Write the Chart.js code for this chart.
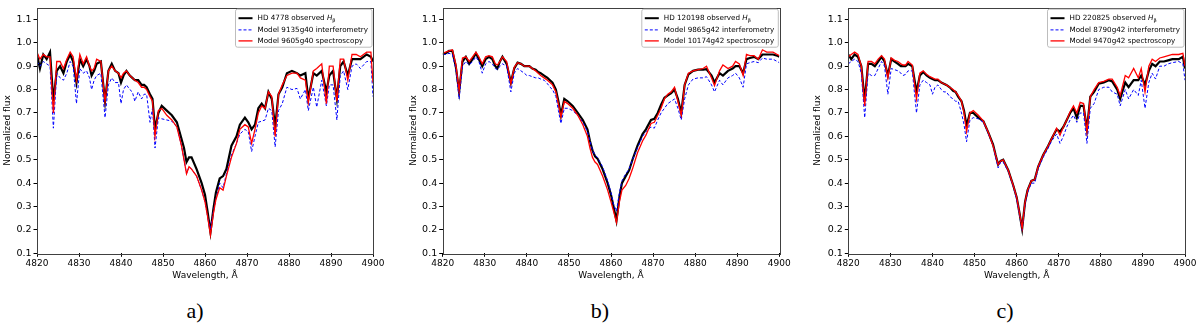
<!DOCTYPE html>
<html><head><meta charset="utf-8">
<script src="https://cdn.jsdelivr.net/npm/chart.js@4.4.0/dist/chart.umd.min.js"></script>
<style>
html,body{margin:0;padding:0;background:#fff;width:1200px;height:325px;overflow:hidden}
.panel{position:absolute;top:0;width:400px;height:325px}
.panel canvas{position:absolute;left:0;top:0}
.lab{position:absolute;top:298px;font-family:"Liberation Serif","DejaVu Serif",serif;font-size:22px;color:#000;transform:translateX(-50%);white-space:nowrap}
</style></head><body>
<div class="panel" style="left:0"><canvas id="ca" width="400" height="290"></canvas><div class="lab" style="left:195px">a)</div></div>
<div class="panel" style="left:400px"><canvas id="cb" width="400" height="290"></canvas><div class="lab" style="left:200px">b)</div></div>
<div class="panel" style="left:800px"><canvas id="cc" width="400" height="290"></canvas><div class="lab" style="left:205px">c)</div></div>
<script>
const wavelengths = [4820,4820.7,4821.5,4822.3,4823.1,4823.9,4824.7,4825.5,4826.3,4827.1,4827.9,4828.6,4829.4,4830.2,4831.0,4831.8,4832.5,4833.0,4833.6,4834.2,4835.2,4836.2,4837.0,4837.8,4838.6,4839.4,4840.0,4840.6,4841.3,4842.1,4842.7,4843.3,4844.1,4844.9,4845.5,4846.1,4846.9,4847.5,4848.1,4848.9,4849.7,4850.9,4852.1,4853.3,4854.4,4855.0,4855.6,4856.2,4856.8,4858.0,4859.2,4860.0,4860.6,4861.3,4862.0,4862.6,4863.5,4864.3,4865.1,4866.3,4867.5,4868.3,4869.5,4870.3,4871.1,4871.9,4872.7,4873.5,4874.3,4875.1,4875.9,4876.7,4877.5,4878.4,4879.5,4880.7,4881.9,4882.7,4883.9,4884.6,4885.8,4886.6,4887.8,4888.9,4889.6,4890.5,4891.4,4892.2,4893.0,4894.0,4895.0,4896.0,4897.0,4898.5,4899.5,4900];

// Panel a) HD 4778
const obsA  = [0.95,0.89,0.95,0.93,0.96,0.75,0.88,0.90,0.87,0.92,0.95,0.92,0.83,0.93,0.90,0.93,0.90,0.86,0.88,0.91,0.92,0.75,0.88,0.91,0.88,0.87,0.83,0.86,0.88,0.86,0.85,0.84,0.84,0.82,0.82,0.81,0.78,0.76,0.63,0.70,0.73,0.71,0.69,0.66,0.59,0.55,0.49,0.51,0.51,0.46,0.40,0.35,0.28,0.19,0.29,0.36,0.42,0.43,0.46,0.56,0.60,0.65,0.68,0.66,0.63,0.65,0.72,0.74,0.72,0.79,0.76,0.64,0.78,0.81,0.87,0.88,0.87,0.86,0.87,0.76,0.87,0.86,0.88,0.79,0.86,0.88,0.76,0.90,0.92,0.86,0.93,0.93,0.93,0.95,0.94,0.92];
const intA  = [0.92,0.90,0.92,0.91,0.90,0.635,0.87,0.85,0.84,0.87,0.92,0.90,0.74,0.89,0.87,0.88,0.85,0.80,0.84,0.86,0.87,0.68,0.82,0.85,0.83,0.83,0.74,0.80,0.82,0.80,0.79,0.75,0.79,0.76,0.78,0.78,0.66,0.72,0.55,0.68,0.675,0.67,0.665,0.64,0.56,0.50,0.44,0.47,0.46,0.43,0.37,0.32,0.26,0.205,0.28,0.33,0.40,0.38,0.44,0.52,0.57,0.61,0.63,0.62,0.535,0.60,0.66,0.665,0.67,0.72,0.71,0.555,0.71,0.74,0.81,0.80,0.805,0.76,0.80,0.71,0.81,0.725,0.84,0.73,0.82,0.82,0.67,0.86,0.88,0.80,0.90,0.91,0.89,0.92,0.92,0.77];
const specA = [0.96,0.93,0.95,0.94,0.94,0.70,0.92,0.92,0.89,0.93,0.96,0.94,0.84,0.95,0.91,0.94,0.90,0.88,0.89,0.93,0.92,0.75,0.88,0.90,0.88,0.87,0.85,0.87,0.88,0.86,0.85,0.84,0.83,0.81,0.81,0.80,0.77,0.75,0.60,0.71,0.72,0.69,0.67,0.64,0.56,0.50,0.44,0.47,0.46,0.43,0.37,0.32,0.26,0.178,0.27,0.33,0.38,0.37,0.43,0.51,0.57,0.63,0.65,0.64,0.57,0.63,0.70,0.73,0.72,0.79,0.77,0.60,0.78,0.82,0.86,0.87,0.87,0.85,0.84,0.745,0.88,0.89,0.91,0.74,0.90,0.90,0.75,0.93,0.93,0.84,0.95,0.95,0.94,0.96,0.96,0.83];

// Panel b) HD 120198
const obsB  = [0.95,0.955,0.965,0.965,0.90,0.79,0.92,0.94,0.91,0.93,0.955,0.93,0.90,0.93,0.94,0.93,0.90,0.89,0.92,0.94,0.91,0.83,0.89,0.915,0.91,0.90,0.90,0.90,0.89,0.885,0.875,0.87,0.86,0.85,0.84,0.83,0.80,0.75,0.69,0.76,0.75,0.73,0.70,0.67,0.63,0.58,0.54,0.515,0.505,0.46,0.40,0.35,0.30,0.24,0.34,0.40,0.43,0.455,0.50,0.56,0.61,0.63,0.67,0.675,0.70,0.735,0.765,0.775,0.785,0.80,0.76,0.70,0.82,0.865,0.88,0.885,0.885,0.887,0.86,0.83,0.87,0.86,0.88,0.89,0.90,0.90,0.87,0.93,0.935,0.94,0.93,0.95,0.95,0.95,0.945,0.94];
const intB  = [0.95,0.95,0.955,0.95,0.89,0.76,0.90,0.92,0.905,0.92,0.94,0.92,0.87,0.91,0.92,0.91,0.89,0.885,0.90,0.91,0.90,0.79,0.87,0.89,0.88,0.87,0.86,0.86,0.855,0.85,0.85,0.845,0.84,0.825,0.81,0.80,0.77,0.71,0.655,0.72,0.72,0.71,0.69,0.66,0.62,0.58,0.54,0.52,0.51,0.47,0.41,0.36,0.31,0.28,0.36,0.41,0.44,0.46,0.50,0.55,0.60,0.62,0.64,0.635,0.67,0.70,0.72,0.74,0.75,0.76,0.72,0.67,0.76,0.82,0.845,0.85,0.85,0.855,0.82,0.79,0.84,0.82,0.85,0.86,0.87,0.85,0.81,0.91,0.915,0.92,0.915,0.935,0.93,0.93,0.92,0.915];
const specB = [0.955,0.96,0.965,0.97,0.91,0.795,0.935,0.94,0.92,0.94,0.96,0.94,0.91,0.94,0.945,0.94,0.91,0.905,0.92,0.94,0.92,0.825,0.895,0.915,0.91,0.90,0.90,0.90,0.89,0.88,0.87,0.86,0.85,0.84,0.83,0.82,0.79,0.74,0.683,0.75,0.74,0.72,0.69,0.65,0.60,0.55,0.51,0.49,0.48,0.43,0.37,0.32,0.28,0.232,0.32,0.37,0.39,0.42,0.46,0.53,0.58,0.605,0.655,0.66,0.69,0.72,0.76,0.78,0.79,0.81,0.75,0.69,0.82,0.87,0.88,0.885,0.89,0.90,0.85,0.817,0.88,0.905,0.89,0.90,0.92,0.91,0.86,0.95,0.945,0.945,0.93,0.97,0.96,0.96,0.95,0.945];

// Panel c) HD 220825
const obsC  = [0.95,0.93,0.95,0.94,0.90,0.75,0.91,0.91,0.90,0.92,0.94,0.92,0.86,0.93,0.92,0.91,0.90,0.90,0.90,0.91,0.90,0.79,0.86,0.875,0.86,0.85,0.845,0.84,0.84,0.83,0.825,0.82,0.81,0.795,0.79,0.77,0.75,0.71,0.645,0.70,0.70,0.68,0.665,0.615,0.565,0.52,0.48,0.495,0.50,0.455,0.39,0.34,0.28,0.205,0.32,0.37,0.41,0.415,0.47,0.52,0.56,0.59,0.63,0.62,0.64,0.67,0.70,0.72,0.68,0.73,0.73,0.63,0.77,0.79,0.825,0.83,0.84,0.835,0.80,0.76,0.83,0.81,0.84,0.84,0.86,0.82,0.88,0.91,0.90,0.92,0.92,0.925,0.93,0.93,0.94,0.89];
const intC  = [0.91,0.92,0.93,0.92,0.87,0.68,0.87,0.86,0.86,0.89,0.92,0.90,0.78,0.89,0.885,0.88,0.87,0.86,0.865,0.88,0.88,0.70,0.82,0.84,0.83,0.82,0.78,0.81,0.82,0.80,0.79,0.79,0.77,0.76,0.75,0.75,0.70,0.65,0.577,0.67,0.68,0.675,0.66,0.61,0.56,0.51,0.465,0.49,0.49,0.45,0.385,0.33,0.27,0.198,0.31,0.36,0.40,0.40,0.46,0.51,0.55,0.58,0.61,0.57,0.60,0.64,0.67,0.69,0.66,0.70,0.70,0.57,0.72,0.74,0.80,0.81,0.81,0.79,0.78,0.73,0.80,0.76,0.80,0.775,0.84,0.72,0.83,0.87,0.845,0.90,0.90,0.91,0.915,0.92,0.91,0.84];
const specC = [0.94,0.95,0.96,0.95,0.90,0.73,0.92,0.92,0.91,0.93,0.945,0.93,0.85,0.935,0.925,0.92,0.91,0.905,0.905,0.92,0.905,0.76,0.87,0.88,0.865,0.855,0.85,0.845,0.845,0.83,0.825,0.82,0.81,0.80,0.79,0.775,0.75,0.70,0.62,0.70,0.71,0.69,0.665,0.615,0.56,0.52,0.48,0.495,0.50,0.455,0.39,0.34,0.28,0.207,0.32,0.37,0.41,0.415,0.47,0.52,0.56,0.59,0.635,0.605,0.64,0.67,0.705,0.73,0.70,0.745,0.74,0.62,0.77,0.80,0.83,0.835,0.845,0.845,0.81,0.775,0.86,0.85,0.89,0.85,0.89,0.79,0.90,0.93,0.92,0.935,0.94,0.945,0.95,0.95,0.955,0.90];

const xTicks = [4820,4830,4840,4850,4860,4870,4880,4890,4900];
const yTicks = [0.1,0.2,0.3,0.4,0.5,0.6,0.7,0.8,0.9,1.0,1.1];
const starNames = ["HD 4778","HD 120198","HD 220825"];
const intModels = ["Model 9135g40 interferometry","Model 9865g42 interferometry","Model 8790g42 interferometry"];
const specModels = ["Model 9605g40 spectroscopy","Model 10174g42 spectroscopy","Model 9470g42 spectroscopy"];

const FONT = '"DejaVu Sans", sans-serif';
const pts = arr => wavelengths.map((w,i)=>({x:w,y:arr[i]}));

const framePlugin = {
  id:'frame',
  afterDatasetsDraw(chart){
    const {ctx, chartArea:a} = chart;
    ctx.save(); ctx.strokeStyle='#404040'; ctx.lineWidth=1;
    ctx.strokeRect(Math.round(a.left)+0.5, Math.round(a.top)+0.5, Math.round(a.right-a.left), Math.round(a.bottom-a.top));
    ctx.restore();
  }
};

const legendPlugin = {
  id:'boxLegend',
  afterDraw(chart, args, opts){
    const {ctx, chartArea:a} = chart;
    const fs = 7.2;
    ctx.save();
    ctx.font = fs+'px '+FONT;
    const t1 = opts.star+' observed ';
    const wH = (()=>{ctx.font='italic '+fs+'px '+FONT; const w=ctx.measureText('H').width; ctx.font=(fs*0.7)+'px '+FONT; const w2=ctx.measureText('β').width; ctx.font=fs+'px '+FONT; return w+w2;})();
    const w1 = ctx.measureText(t1).width + wH;
    const w2 = ctx.measureText(opts.int).width;
    const w3 = ctx.measureText(opts.spec).width;
    const textX = 22;
    const bw = textX + Math.max(w1,w2,w3) + 4;
    const bh = 38;
    const bx = a.right - 1 - bw, by = a.top + 1.5;
    ctx.fillStyle='rgba(255,255,255,0.85)';
    ctx.strokeStyle='#bdbdbd'; ctx.lineWidth=1;
    ctx.beginPath();
    if (ctx.roundRect) ctx.roundRect(bx,by,bw,bh,2); else ctx.rect(bx,by,bw,bh);
    ctx.fill(); ctx.stroke();
    const rows = [by+9, by+20.7, by+31.7];
    const styles = [{c:'#000',w:2,d:[]},{c:'#0000ff',w:1,d:[3,2]},{c:'#ff0000',w:1.3,d:[]}];
    rows.forEach((y,i)=>{
      ctx.beginPath(); ctx.setLineDash(styles[i].d); ctx.strokeStyle=styles[i].c; ctx.lineWidth=styles[i].w;
      ctx.moveTo(bx+3,y); ctx.lineTo(bx+17,y); ctx.stroke();
    });
    ctx.setLineDash([]);
    ctx.fillStyle='#000'; ctx.textBaseline='middle'; ctx.textAlign='left';
    let x = bx+textX;
    ctx.font = fs+'px '+FONT; ctx.fillText(t1, x, rows[0]); x += ctx.measureText(t1).width;
    ctx.font = 'italic '+fs+'px '+FONT; ctx.fillText('H', x, rows[0]); x += ctx.measureText('H').width;
    ctx.font = (fs*0.7)+'px '+FONT; ctx.fillText('β', x, rows[0]+2);
    ctx.font = fs+'px '+FONT;
    ctx.fillText(opts.int, bx+textX, rows[1]);
    ctx.fillText(opts.spec, bx+textX, rows[2]);
    ctx.restore();
  }
};

function makeChart(id, k, obs, intm, spec, padL, chartLeft, padR){
  new Chart(document.getElementById(id), {
    type:'line',
    data:{datasets:[
      {label:starNames[k]+' observed Hβ', data:pts(obs), borderColor:'#000', borderWidth:2.2, pointRadius:0, tension:0, order:3},
      {label:intModels[k], data:pts(intm), borderColor:'#0000ff', borderWidth:1, borderDash:[3,2], pointRadius:0, tension:0, order:2},
      {label:specModels[k], data:pts(spec), borderColor:'#ff0000', borderWidth:1.3, pointRadius:0, tension:0, order:1}
    ]},
    options:{
      responsive:false, animation:false, devicePixelRatio:1,
      layout:{padding:{left:padL, right:padR, top:4, bottom:8.7}},
      plugins:{legend:{display:false}, tooltip:{enabled:false},
        boxLegend:{star:starNames[k], int:intModels[k], spec:specModels[k]}},
      scales:{
        x:{type:'linear', min:4820, max:4900,
          afterBuildTicks(s){ s.ticks = xTicks.map(v=>({value:v})); },
          ticks:{font:{family:FONT,size:9}, color:'#000', padding:1.8, maxRotation:0, autoSkip:false, callback:v=>String(v)},
          grid:{drawOnChartArea:false, drawTicks:true, tickLength:3.5, color:'#000', tickColor:'#000'},
          border:{display:false},
          title:{display:true, text:'Wavelength, Å', font:{family:FONT,size:9}, color:'#000', padding:{top:0,bottom:0}},
          afterFit(s){ s.height = 28; }
        },
        y:{type:'linear', min:0.1, max:1.15,
          afterBuildTicks(s){ s.ticks = yTicks.map(v=>({value:v})); },
          ticks:{font:{family:FONT,size:9.5}, color:'#000', padding:2, autoSkip:false, callback:v=>Number(v).toFixed(1)},
          grid:{drawOnChartArea:false, drawTicks:true, tickLength:3.5, color:'#000', tickColor:'#000'},
          border:{display:false},
          title:{display:true, text:'Normalized flux', font:{family:FONT,size:9}, color:'#000', padding:{top:2,bottom:0}},
          afterFit(s){ s.width = chartLeft - padL; }
        }
      }
    },
    plugins:[framePlugin, legendPlugin]
  });
}
makeChart('ca',0,obsA,intA,specA,0,37,27);
makeChart('cb',1,obsB,intB,specB,6,42.7,20.7);
makeChart('cc',2,obsC,intC,specC,10,48.3,15);
</script>
</body></html>
